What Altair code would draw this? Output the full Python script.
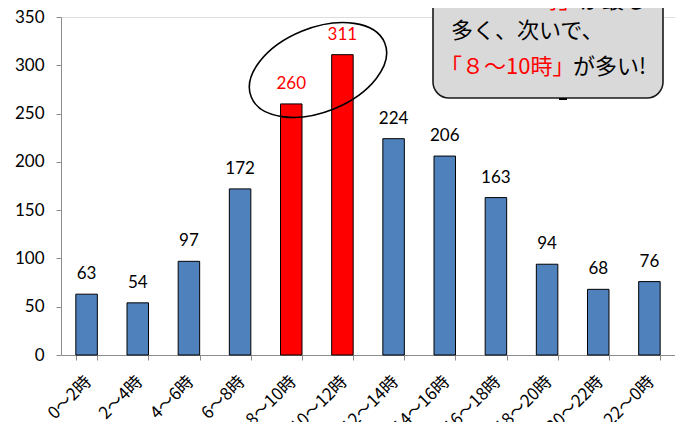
import altair as alt
import pandas as pd

categories = ["0～2時", "2～4時", "4～6時", "6～8時", "8～10時", "10～12時",
              "12～14時", "14～16時", "16～18時", "18～20時", "20～22時", "22～0時"]
values = [63, 54, 97, 172, 260, 311, 224, 206, 163, 94, 68, 76]
highlighted = ["8～10時", "10～12時"]

callout_line1_red = "「10～12時」"
callout_line1_black = "が最も"
callout_line2 = "多く、次いで、"
callout_line3_red = "「８～10時」"
callout_line3_black = "が多い!"

df = pd.DataFrame({"cat": categories, "val": values})
one = pd.DataFrame({"k": [0]})

W, H = 614, 338
BLUE = "#4f81bd"
RED = "#ff0000"
JP = "Noto Sans CJK JP"
NUM = "Lato"

x = alt.X("cat:N", sort=categories, title=None,
          scale=alt.Scale(paddingInner=0.58, paddingOuter=0.29),
          axis=alt.Axis(labelAngle=315, labelFont=JP, labelFontSize=17,
                        labelColor="#000000", tickBand="extent", tickSize=5,
                        domainColor="#8c8c8c", tickColor="#8c8c8c",
                        labelPadding=13, labelOffset=-4, grid=False))
y = alt.Y("val:Q", title=None,
          scale=alt.Scale(domain=[0, 350], nice=False),
          axis=alt.Axis(values=list(range(0, 351, 50)), labelFont=NUM,
                        labelFontSize=17, labelColor="#000000", tickSize=5,
                        domainColor="#8c8c8c", tickColor="#8c8c8c",
                        labelPadding=12, grid=False))

is_hi = alt.FieldOneOfPredicate(field="cat", oneOf=highlighted)

bars = alt.Chart(df).mark_bar(stroke="#000000", strokeWidth=1).encode(
    x=x, y=y,
    color=alt.condition(is_hi, alt.value(RED), alt.value(BLUE)),
)

labels = alt.Chart(df).mark_text(baseline="bottom", dy=-11, font=NUM,
                                 fontSize=17).encode(
    x=alt.X("cat:N", sort=categories),
    y="val:Q",
    text="val:Q",
    color=alt.condition(is_hi, alt.value(RED), alt.value("#000000")),
)

# ellipse annotation around the two highlighted bars
e = 0.583
k = 0.5523
ellipse_path = (
    f"M 1 0 C 1 {e*k:.4f} {k:.4f} {e:.4f} 0 {e:.4f} "
    f"C {-k:.4f} {e:.4f} -1 {e*k:.4f} -1 0 "
    f"C -1 {-e*k:.4f} {-k:.4f} {-e:.4f} 0 {-e:.4f} "
    f"C {k:.4f} {-e:.4f} 1 {-e*k:.4f} 1 0 Z"
)
ellipse = alt.Chart(one).mark_point(
    shape=ellipse_path, size=144 * 144, filled=False, stroke="#000000",
    strokeWidth=1.6, angle=338, opacity=1
).encode(x=alt.value(318 - 61), y=alt.value(70 - 17))

# callout box
box = alt.Chart(one).mark_rect(
    fill="#d9d9d9", stroke="#1a1a1a", strokeWidth=1.6, cornerRadius=16
).encode(x=alt.value(433 - 61), x2=alt.value(663 - 61),
         y=alt.value(-60), y2=alt.value(98 - 17))
stub = alt.Chart(one).mark_rect(fill="#000000").encode(
    x=alt.value(559 - 61), x2=alt.value(567 - 61),
    y=alt.value(98 - 17), y2=alt.value(100 - 17))


def txt(s, px, py, color):
    return alt.Chart(one).mark_text(
        text=s, align="left", baseline="middle", font=JP, fontSize=22,
        color=color
    ).encode(x=alt.value(px - 61), y=alt.value(py - 17))


t1r = txt(callout_line1_red, 444, 1, RED)
t1b = txt(callout_line1_black, 580, 1, "#000000")
t2 = txt(callout_line2, 451, 31, "#000000")
t3r = txt(callout_line3_red, 440, 67, RED)
t3b = txt(callout_line3_black, 573, 67, "#000000")

chart = alt.layer(bars, labels, ellipse, box, stub, t1r, t1b, t2, t3r, t3b).properties(
    width=W, height=H,
    autosize=alt.AutoSizeParams(type="none"),
    padding={"left": 53, "top": 9, "right": 0, "bottom": 67},
).configure_view(stroke=None).configure(background="#ffffff")

chart.save("out.html", embed_options={"renderer": "svg", "actions": False})
